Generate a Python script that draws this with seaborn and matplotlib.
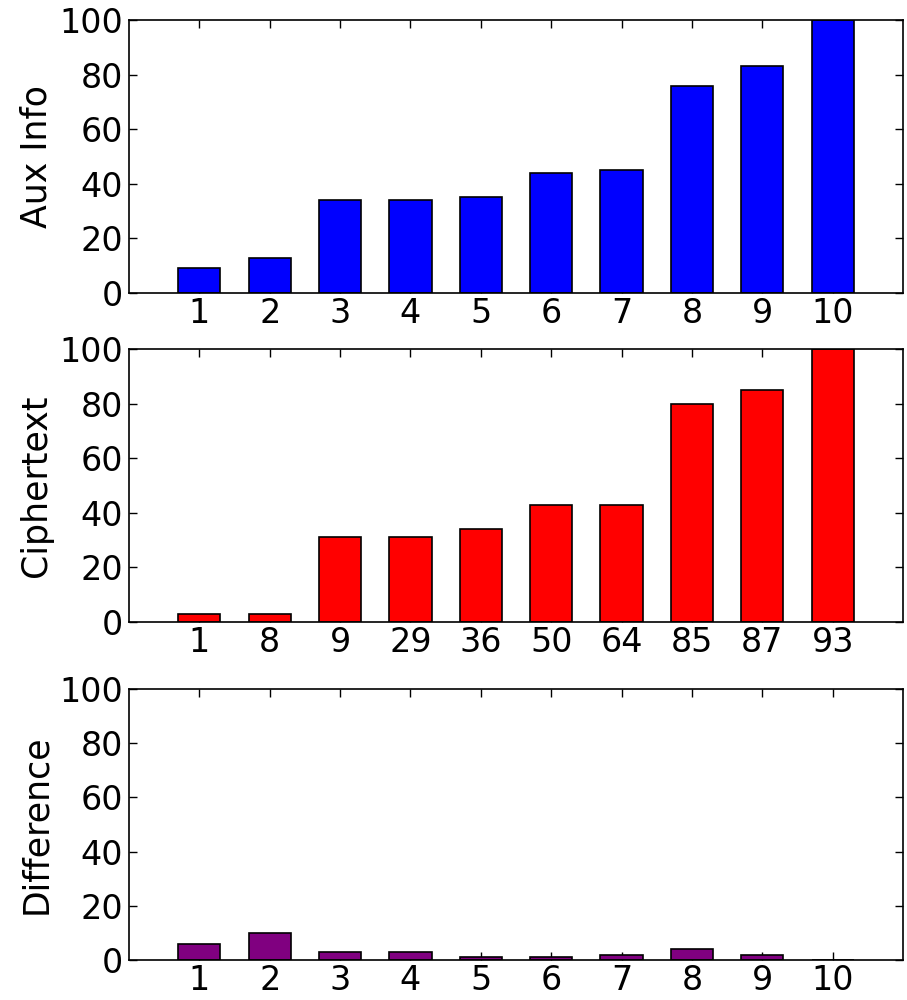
import matplotlib
matplotlib.use("Agg")
import matplotlib.pyplot as plt
import seaborn as sns
import pandas as pd

aux_labels = ["1", "2", "3", "4", "5", "6", "7", "8", "9", "10"]
aux_values = [9, 13, 34, 34, 35, 44, 45, 76, 83, 100]

cipher_labels = ["1", "8", "9", "29", "36", "50", "64", "85", "87", "93"]
cipher_values = [3, 3, 31, 31, 34, 43, 43, 80, 85, 100]

diff_labels = ["1", "2", "3", "4", "5", "6", "7", "8", "9", "10"]
diff_values = [6, 10, 3, 3, 1, 1, 2, 4, 2, 0]

y_ticks = [0, 20, 40, 60, 80, 100]

sns.set_style("white")
plt.rcParams["font.family"] = ["DejaVu Sans"]
plt.rcParams["axes.labelcolor"] = "black"
plt.rcParams["text.color"] = "black"

fig = plt.figure(figsize=(9.07, 10.0), dpi=100)

panels = [
    (aux_labels, aux_values, "#0000ff", "Aux Info", [0.1422, 0.707, 0.8534, 0.273]),
    (cipher_labels, cipher_values, "#ff0000", "Ciphertext", [0.1422, 0.378, 0.8534, 0.273]),
    (diff_labels, diff_values, "#800080", "Difference", [0.1422, 0.040, 0.8534, 0.271]),
]

for labels, values, color, ylabel, rect in panels:
    ax = fig.add_axes(rect)
    df = pd.DataFrame({"label": labels, "value": values})
    sns.barplot(data=df, x="label", y="value", order=labels, color=color,
                saturation=1, width=0.6, edgecolor="black", linewidth=1.2,
                ax=ax, errorbar=None)
    ax.set_xlim(-1, len(labels))
    ax.set_ylim(0, 100)
    ax.set_yticks(y_ticks)
    ax.set_yticklabels([str(t) for t in y_ticks])
    ax.set_xlabel("")
    ax.set_ylabel(ylabel, fontsize=25, color="black", labelpad=4)
    ax.tick_params(axis="both", which="major", direction="in", length=6,
                   width=1, labelsize=24, top=True, right=True, bottom=True,
                   left=True, pad=4.5, colors="black")
    ax.tick_params(axis="x", pad=3)
    for s in ax.spines.values():
        s.set_visible(True)
        s.set_color("black")
        s.set_linewidth(1.2)

fig.savefig("out.png", dpi=100)
